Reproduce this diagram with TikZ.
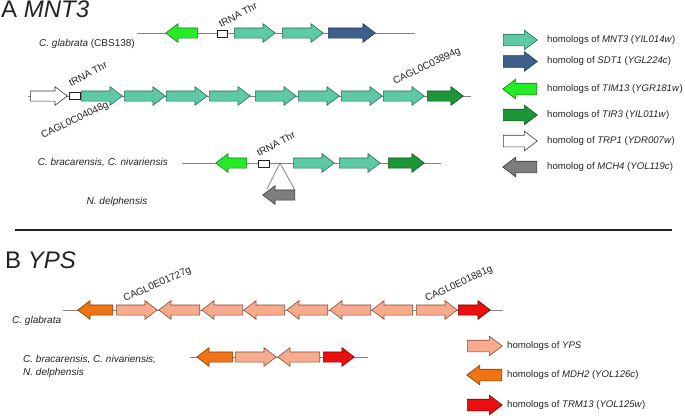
\documentclass[tikz,border=0pt]{standalone}
\usepackage{fontspec}
\setmainfont{Liberation Sans}
\usetikzlibrary{
        shapes.arrows,
        positioning
    }
\definecolor{mntfill}{RGB}{94,201,166}
\definecolor{mntline}{RGB}{40,110,88}
\definecolor{sdtfill}{RGB}{62,95,140}
\definecolor{sdtline}{RGB}{35,55,85}
\definecolor{timfill}{RGB}{40,235,40}
\definecolor{timline}{RGB}{20,130,20}
\definecolor{tirfill}{RGB}{28,150,55}
\definecolor{tirline}{RGB}{15,85,30}
\definecolor{mchfill}{RGB}{125,125,125}
\definecolor{mchline}{RGB}{60,60,60}
\definecolor{ypsfill}{RGB}{248,170,140}
\definecolor{ypsline}{RGB}{130,80,60}
\definecolor{mdhfill}{RGB}{240,115,20}
\definecolor{mdhline}{RGB}{130,60,10}
\definecolor{trmfill}{RGB}{235,15,15}
\definecolor{trmline}{RGB}{130,0,0}
\definecolor{ink}{RGB}{35,35,35}
\definecolor{chrom}{RGB}{130,130,130}
\tikzset{
  gene/.style={single arrow,draw,line width=0.6pt,inner xsep=0pt,inner ysep=4.75pt,
    single arrow head extend=4.25pt,minimum width=18pt,single arrow tip angle=74,anchor=tail},
  rev/.style={shape border rotate=180},
  leg/.style={inner ysep=5.5pt,single arrow head extend=4pt,minimum width=19pt},
  mnt/.style={gene,fill=mntfill,draw=mntline,minimum height=41pt},
  sdt/.style={gene,fill=sdtfill,draw=sdtline},
  tim/.style={gene,rev,fill=timfill,draw=timline},
  tir/.style={gene,fill=tirfill,draw=tirline},
  trp/.style={gene,fill=white,draw=mchline},
  mch/.style={gene,rev,fill=mchfill,draw=mchline},
  yps/.style={gene,fill=ypsfill,draw=ypsline,minimum height=41pt},
  mdh/.style={gene,rev,fill=mdhfill,draw=mdhline},
  trm/.style={gene,fill=trmfill,draw=trmline},
  trna/.style={draw=ink,fill=white,line width=0.6pt,inner sep=0pt,minimum width=10pt,minimum height=7pt},
  chr/.style={draw=chrom,line width=0.8pt},
  lbl/.style={text=ink,font=\fontsize{10}{13}\selectfont,inner sep=0pt},
  key/.style={lbl,anchor=west,font=\fontsize{9.6}{12}\selectfont},
  tag/.style={lbl,anchor=base west},
  head/.style={text=ink,font=\fontsize{24}{28}\selectfont,inner sep=0pt,anchor=north west}
}

\begin{document}
\begin{tikzpicture}[x=1pt,y=-1pt]
  \useasboundingbox (0,0) rectangle (685,415);

  % panel A
  \node[head] (ha) at (1,1) {A \textit{MNT3}};

  \coordinate (a1l) at (137,33);
  \coordinate (a1r) at (415,33);
  \coordinate (a2l) at (28,96);
  \coordinate (a2r) at (471,96);
  \coordinate (a3l) at (182,163);
  \coordinate (a3r) at (441,163);
  \coordinate (ins) at (280,163);
  \coordinate (insl) at (267,189);
  \coordinate (insr) at (295,190.25);
  \draw[chr] (a1l) -- (a1r);
  \draw[chr] (a2l) -- (a2r);
  \draw[chr] (a3l) -- (a3r);
  \draw[chr] (insl) -- (ins) -- (insr);

  \node[lbl,anchor=east] (sp1) at (135,44) {\textit{C. glabrata} (CBS138)};
  \node[tim,minimum height=32pt] (tim1) at (198,33) {};
  \node[trna] (tr1) at (222,34) {};
  \node[mnt] (mnt1a) at (234,33) {};
  \node[mnt] (mnt1b) at (282,33) {};
  \node[sdt,minimum height=47pt] (sdt1) at (328,33) {};
  \node[tag,rotate=28] (ttr1) at (221,28) {tRNA Thr};

  \node[trp,minimum height=37pt] (trp2) at (30,96) {};
  \node[trna,minimum width=11pt] (tr2) at (74.5,96) {};
  \node[mnt] (mnt2a) at (81,96) {};
  \node[mnt] (mnt2b) at (124,96) {};
  \node[mnt] (mnt2c) at (166,96) {};
  \node[mnt] (mnt2d) at (209,96) {};
  \node[mnt] (mnt2e) at (255,96) {};
  \node[mnt] (mnt2f) at (298,96) {};
  \node[mnt] (mnt2g) at (341,96) {};
  \node[mnt] (mnt2h) at (383,96) {};
  \node[tir,minimum height=36pt] (tir2) at (427,96) {};
  \node[tag,rotate=28] (ttr2) at (71,87) {tRNA Thr};
  \node[tag,rotate=26] (cg1) at (43,139) {CAGL0C04048g};
  \node[tag,rotate=26] (cg2) at (395,85) {CAGL0C03894g};

  \node[lbl,anchor=east] (sp2) at (168,163) {\textit{C. bracarensis, C. nivariensis}};
  \node[lbl] (sp3) at (117,202) {\textit{N. delphensis}};
  \node[tim,minimum height=31pt] (tim3) at (247,163) {};
  \node[trna,minimum width=11pt] (tr3) at (263.5,164) {};
  \node[mnt] (mnt3a) at (293,163) {};
  \node[mnt] (mnt3b) at (339,163) {};
  \node[tir,minimum height=36pt] (tir3) at (388,163) {};
  \node[mch,minimum height=32pt] (mch3) at (295,195) {};
  \node[tag,rotate=28] (ttr3) at (259,157) {tRNA Thr};

  % legend A
  \node[mnt,leg,minimum height=34pt] (lmnt) at (503,40) {};
  \node[sdt,leg,minimum height=34pt] (lsdt) at (503,61.5) {};
  \node[tim,leg,minimum height=34pt] (ltim) at (537,89) {};
  \node[tir,leg,minimum height=34pt] (ltir) at (503,115) {};
  \node[trp,leg,minimum height=34pt] (ltrp) at (503,141) {};
  \node[mch,leg,minimum height=34pt] (lmch) at (537,167) {};
  \node[key] at (547,40) {homologs of \textit{MNT3} (\textit{YIL014w})};
  \node[key] at (547,61.5) {homolog of \textit{SDT1} (\textit{YGL224c})};
  \node[key] at (547,89) {homologs of \textit{TIM13} (\textit{YGR181w})};
  \node[key] at (547,115) {homologs of \textit{TIR3} (\textit{YIL011w})};
  \node[key] at (547,141) {homolog of \textit{TRP1} (\textit{YDR007w})};
  \node[key] at (547,167) {homolog of \textit{MCH4} (\textit{YOL119c})};

  % separator
  \coordinate (sepl) at (15,230);
  \coordinate (sepr) at (672,230);
  \draw[ink,line width=1.2pt] (sepl) -- (sepr);

  % panel B
  \node[head] (hb) at (5,252) {B \textit{YPS}};

  \coordinate (b1l) at (63,310);
  \coordinate (b1r) at (503,310);
  \coordinate (b2l) at (190,357);
  \coordinate (b2r) at (368,357);
  \draw[chr] (b1l) -- (b1r);
  \draw[chr] (b2l) -- (b2r);

  \node[lbl,anchor=west] (sp4) at (12,321) {\textit{C. glabrata}};
  \node[mdh,minimum height=35pt] (mdh4) at (113,310) {};
  \node[yps] (yps4a) at (116,310) {};
  \node[yps,rev] (yps4b) at (200,310) {};
  \node[yps,rev] (yps4c) at (243,310) {};
  \node[yps,rev] (yps4d) at (285,310) {};
  \node[yps,rev] (yps4e) at (328,310) {};
  \node[yps,rev] (yps4f) at (371,310) {};
  \node[yps,rev] (yps4g) at (413,310) {};
  \node[yps] (yps4h) at (416,310) {};
  \node[trm,minimum height=32pt] (trm4) at (458,310) {};
  \node[tag,rotate=24] (cg3) at (125,302) {CAGL0E01727g};
  \node[tag,rotate=25] (cg4) at (427,302) {CAGL0E01881g};

  \node[lbl,anchor=west,align=left] (sp5) at (23,366.5)
    {\textit{C. bracarensis, C. nivariensis,}\\\textit{N. delphensis}};
  \node[mdh,minimum height=36pt] (mdh5) at (233,357) {};
  \node[yps] (yps5a) at (235,357) {};
  \node[yps,rev,minimum height=42pt] (yps5b) at (320,357) {};
  \node[trm,minimum height=31pt] (trm5) at (323,357) {};

  % legend B
  \node[yps,leg,minimum height=35pt] (lyps) at (467,346) {};
  \node[mdh,leg,minimum height=35pt] (lmdh) at (502,375) {};
  \node[trm,leg,minimum height=35pt] (ltrm) at (467,405) {};
  \node[key] at (507,346) {homologs of \textit{YPS}};
  \node[key] at (507,375) {homologs of \textit{MDH2} (\textit{YOL126c})};
  \node[key] at (507,405) {homologs of \textit{TRM13} (\textit{YOL125w})};
\end{tikzpicture}
\end{document}
